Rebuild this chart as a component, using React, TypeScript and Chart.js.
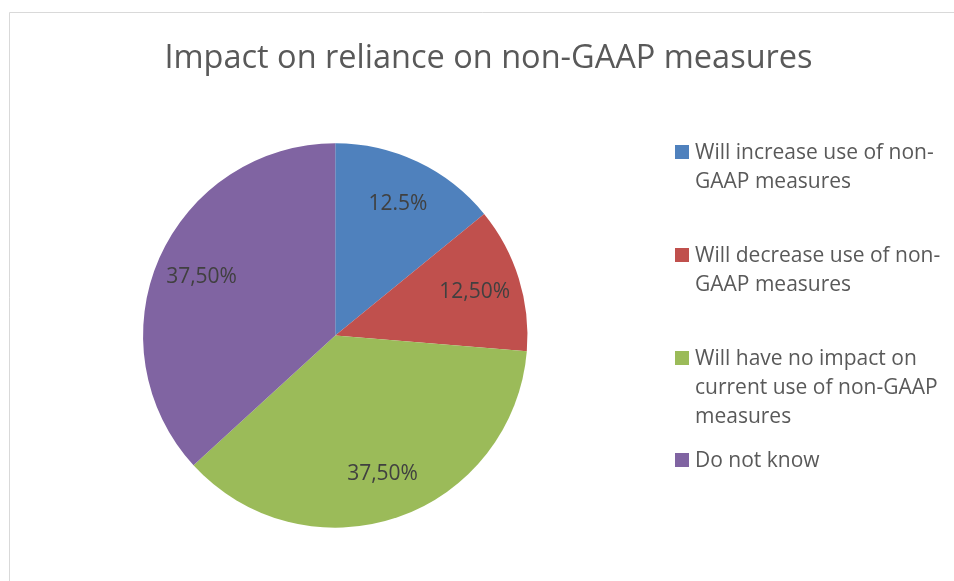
import React, { useEffect, useRef } from "react";
import { Chart, registerables } from "chart.js";

Chart.register(...registerables);

const TITLE = "Impact on reliance on non-GAAP measures";
const categories = [
  "Will increase use of non-GAAP measures",
  "Will decrease use of non-GAAP measures",
  "Will have no impact on current use of non-GAAP measures",
  "Do not know",
];
const legendLines = [
  ["Will increase use of non-", "GAAP measures"],
  ["Will decrease use of non-", "GAAP measures"],
  ["Will have no impact on", "current use of non-GAAP", "measures"],
  ["Do not know"],
];
const values = [14.1, 12.2, 36.9, 36.8];
const valueLabels = ["12.5%", "12,50%", "37,50%", "37,50%"];
const colors = ["#4F81BD", "#C0504D", "#9BBB59", "#8064A2"];

const FONT = "'Open Sans', 'Liberation Sans', sans-serif";

const decorPlugin = {
  id: "decor",
  beforeDraw(chart: any) {
    const ctx = chart.ctx;
    ctx.save();
    ctx.fillStyle = "#ffffff";
    ctx.fillRect(0, 0, chart.width, chart.height);
    ctx.strokeStyle = "#d9d9d9";
    ctx.lineWidth = 1;
    ctx.beginPath();
    ctx.moveTo(9.5, chart.height + 5);
    ctx.lineTo(9.5, 12.5);
    ctx.lineTo(chart.width + 5, 12.5);
    ctx.stroke();
    ctx.restore();
  },
  afterDraw(chart: any) {
    const ctx = chart.ctx;
    ctx.save();
    // title
    ctx.fillStyle = "#595959";
    ctx.font = `32.5px ${FONT}`;
    ctx.textAlign = "center";
    ctx.textBaseline = "alphabetic";
    ctx.fillText(TITLE, 488.5, 68);

    // data labels
    const meta = chart.getDatasetMeta(0);
    ctx.fillStyle = "#404040";
    ctx.font = `21px ${FONT}`;
    ctx.textAlign = "center";
    ctx.textBaseline = "middle";
    meta.data.forEach((arc: any, i: number) => {
      const p = arc.getProps(["x", "y", "startAngle", "endAngle", "outerRadius"], true);
      const mid = (p.startAngle + p.endAngle) / 2;
      const r = p.outerRadius * 0.76;
      ctx.fillText(valueLabels[i], p.x + Math.cos(mid) * r, p.y + Math.sin(mid) * r);
    });

    // legend
    const firstBaselines = [159, 262, 365, 467];
    ctx.font = `21px ${FONT}`;
    ctx.textAlign = "left";
    ctx.textBaseline = "alphabetic";
    legendLines.forEach((lines, i) => {
      const by = firstBaselines[i];
      ctx.fillStyle = colors[i];
      ctx.fillRect(675, by - 14, 14, 14);
      ctx.fillStyle = "#595959";
      lines.forEach((ln, j) => ctx.fillText(ln, 695, by + j * 29));
    });
    ctx.restore();
  },
};

export default function App() {
  const ref = useRef<HTMLCanvasElement | null>(null);
  useEffect(() => {
    if (!ref.current) return;
    const chart = new Chart(ref.current, {
      type: "pie",
      data: {
        labels: categories,
        datasets: [
          {
            data: values,
            backgroundColor: colors,
            borderWidth: 0,
          },
        ],
      },
      options: {
        responsive: false,
        animation: false,
        layout: {
          padding: { left: 143, right: 426.5, top: 143.3, bottom: 53.3 },
        },
        plugins: {
          legend: { display: false },
          title: { display: false },
          tooltip: { enabled: false },
        },
      },
      plugins: [decorPlugin],
    });
    return () => chart.destroy();
  }, []);
  return (
    <div style={{ position: "absolute", left: 0, top: 0, width: 954, height: 581 }}>
      <canvas ref={ref} width={954} height={581} />
    </div>
  );
}
